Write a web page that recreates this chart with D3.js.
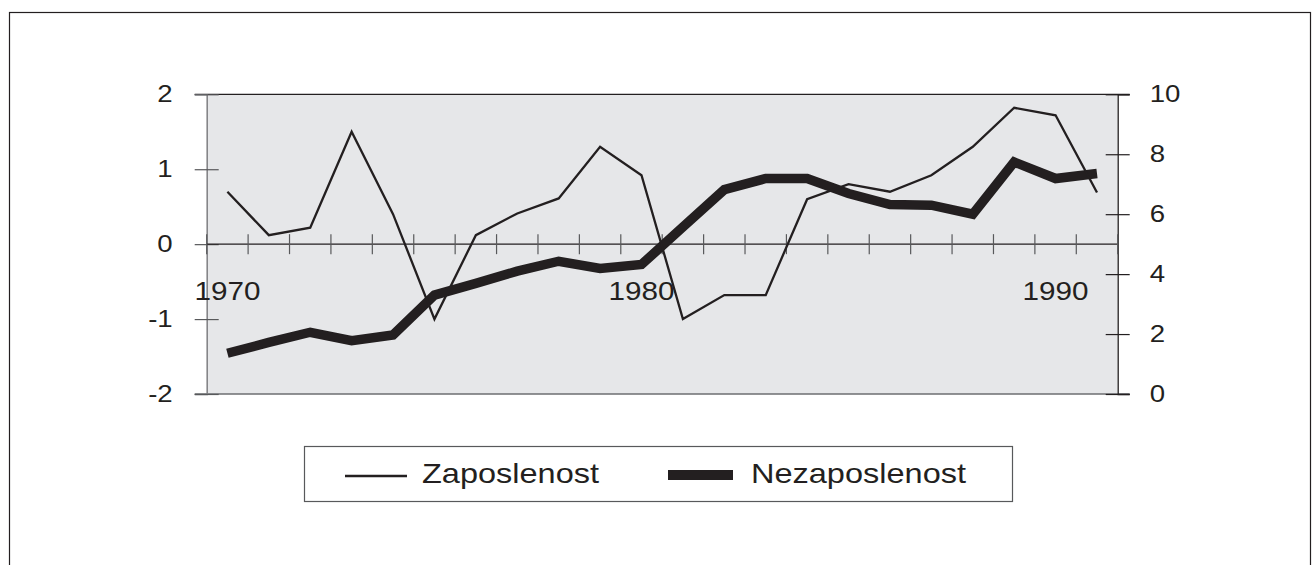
<!DOCTYPE html>
<html>
<head>
<meta charset="utf-8">
<script src="https://cdn.jsdelivr.net/npm/d3@7"></script>
<style>
  body { margin: 0; background: #fff; }
  svg { display: block; }
  text { font-family: "Liberation Sans", Arial, sans-serif; fill: #231f20; }
</style>
</head>
<body>
<div id="chart"></div>
<script>
// data
var years = ["1970","1971","1972","1973","1974","1975","1976","1977","1978","1979","1980",
             "1981","1982","1983","1984","1985","1986","1987","1988","1989","1990","1991"];
var yearLabels = ["1970", "1980", "1990"];
var zaposlenost = [0.70, 0.12, 0.22, 1.50, 0.40, -1.00, 0.12, 0.41, 0.61, 1.30, 0.92,
                   -1.00, -0.68, -0.68, 0.60, 0.80, 0.70, 0.92, 1.30, 1.82, 1.72, 0.69];
var nezaposlenost = [1.36, 1.72, 2.06, 1.78, 1.97, 3.30, 3.69, 4.10, 4.43, 4.19, 4.32,
                     5.57, 6.82, 7.19, 7.19, 6.69, 6.32, 6.30, 6.00, 7.74, 7.19, 7.36];
var leftTicks = [-2, -1, 0, 1, 2];
var rightTicks = [0, 2, 4, 6, 8, 10];
var seriesNames = ["Zaposlenost", "Nezaposlenost"];

var W = 1313, H = 565;
var ink = "#231f20";
var plot = { left: 206.7, right: 1117.7, top: 94.3, bottom: 394 };

var svg = d3.select("#chart").append("svg")
    .attr("width", W)
    .attr("height", H);

// outer frame (bottom runs off the picture)
svg.append("rect")
    .attr("x", 9.5).attr("y", 12.5)
    .attr("width", 1301).attr("height", 700)
    .attr("fill", "none").attr("stroke", ink).attr("stroke-width", 1.2);

var x = d3.scaleBand().domain(years).range([plot.left, plot.right]).padding(0);
var yL = d3.scaleLinear().domain([-2, 2]).range([plot.bottom, plot.top]);
var yR = d3.scaleLinear().domain([0, 10]).range([plot.bottom, plot.top]);

// plot background
svg.append("rect")
    .attr("x", plot.left).attr("y", plot.top)
    .attr("width", plot.right - plot.left).attr("height", plot.bottom - plot.top)
    .attr("fill", "#e6e7e9");

// top and bottom border lines (include the outer tick stubs)
svg.append("line")
    .attr("x1", plot.left - 12).attr("x2", plot.right + 12)
    .attr("y1", plot.top).attr("y2", plot.top)
    .attr("stroke", ink).attr("stroke-width", 1.3);
svg.append("line")
    .attr("x1", plot.left - 12).attr("x2", plot.right + 12)
    .attr("y1", plot.bottom).attr("y2", plot.bottom)
    .attr("stroke", "#6d6e70").attr("stroke-width", 1.5);

function stretch(sel, f) {
  sel.each(function() {
    var w = this.getComputedTextLength();
    d3.select(this).attr("textLength", w * f).attr("lengthAdjust", "spacingAndGlyphs");
  });
}

// left axis
var gL = svg.append("g")
    .attr("transform", "translate(" + plot.left + ",0)")
    .call(d3.axisLeft(yL).tickValues(leftTicks).tickSize(12).tickFormat(d3.format("d")));
gL.select(".domain").attr("stroke", "#808184").attr("stroke-width", 1.5);
gL.selectAll(".tick line").attr("x1", -12).attr("x2", 12).attr("stroke", "#58595b").attr("stroke-width", 1.2);
gL.selectAll(".tick text")
    .attr("x", -34)
    .text(function(d) { return d; })
    .attr("font-size", 23).attr("fill", ink)
    .style("font-family", '"Liberation Sans", Arial, sans-serif');
stretch(gL.selectAll(".tick text"), 1.2);

// right axis
var gR = svg.append("g")
    .attr("transform", "translate(" + plot.right + ",0)")
    .call(d3.axisRight(yR).tickValues(rightTicks).tickSize(12));
gR.select(".domain").attr("stroke", ink).attr("stroke-width", 1.3);
gR.selectAll(".tick line").attr("x1", -12).attr("x2", 12).attr("stroke", ink).attr("stroke-width", 1.2);
gR.selectAll(".tick text")
    .attr("x", 32)
    .attr("font-size", 23).attr("fill", ink)
    .style("font-family", '"Liberation Sans", Arial, sans-serif');
stretch(gR.selectAll(".tick text"), 1.2);

// category axis on the zero line
var y0 = yL(0);
svg.append("line")
    .attr("x1", plot.left).attr("x2", plot.right)
    .attr("y1", y0).attr("y2", y0)
    .attr("stroke", ink).attr("stroke-width", 1.2);
var edges = years.map(function(d) { return x(d); }).concat([plot.right]);
svg.append("g").selectAll("line")
  .data(edges)
  .join("line")
    .attr("x1", function(d) { return d; }).attr("x2", function(d) { return d; })
    .attr("y1", y0 - 10).attr("y2", y0 + 10)
    .attr("stroke", "#58595b").attr("stroke-width", 1.2);
svg.append("g").selectAll("text")
  .data(yearLabels)
  .join("text")
    .attr("x", function(d) { return x(d) + x.bandwidth() / 2; })
    .attr("y", 299.5)
    .attr("text-anchor", "middle")
    .attr("font-size", 26.5)
    .attr("textLength", 66).attr("lengthAdjust", "spacingAndGlyphs")
    .text(function(d) { return d; });

// lines
var cx = function(d, i) { return x(years[i]) + x.bandwidth() / 2; };
var lineL = d3.line().x(cx).y(function(d) { return yL(d); });
var lineR = d3.line().x(cx).y(function(d) { return yR(d); });

svg.append("path")
    .datum(nezaposlenost)
    .attr("d", lineR)
    .attr("fill", "none").attr("stroke", ink)
    .attr("stroke-width", 9.5).attr("stroke-linejoin", "miter");

svg.append("path")
    .datum(zaposlenost)
    .attr("d", lineL)
    .attr("fill", "none").attr("stroke", ink)
    .attr("stroke-width", 2.3).attr("stroke-linejoin", "miter");

// legend
var lg = svg.append("g");
lg.append("rect")
    .attr("x", 304.5).attr("y", 446.5).attr("width", 708).attr("height", 55)
    .attr("fill", "#fff").attr("stroke", "#58595b").attr("stroke-width", 1.2);
lg.append("line")
    .attr("x1", 345).attr("x2", 407).attr("y1", 476).attr("y2", 476)
    .attr("stroke", ink).attr("stroke-width", 2.3);
lg.append("line")
    .attr("x1", 668).attr("x2", 733).attr("y1", 475).attr("y2", 475)
    .attr("stroke", ink).attr("stroke-width", 10);
lg.append("text")
    .attr("x", 422).attr("y", 483)
    .attr("font-size", 28)
    .attr("textLength", 177).attr("lengthAdjust", "spacingAndGlyphs")
    .text(seriesNames[0]);
lg.append("text")
    .attr("x", 751).attr("y", 483)
    .attr("font-size", 28)
    .attr("textLength", 215).attr("lengthAdjust", "spacingAndGlyphs")
    .text(seriesNames[1]);
</script>
</body>
</html>
